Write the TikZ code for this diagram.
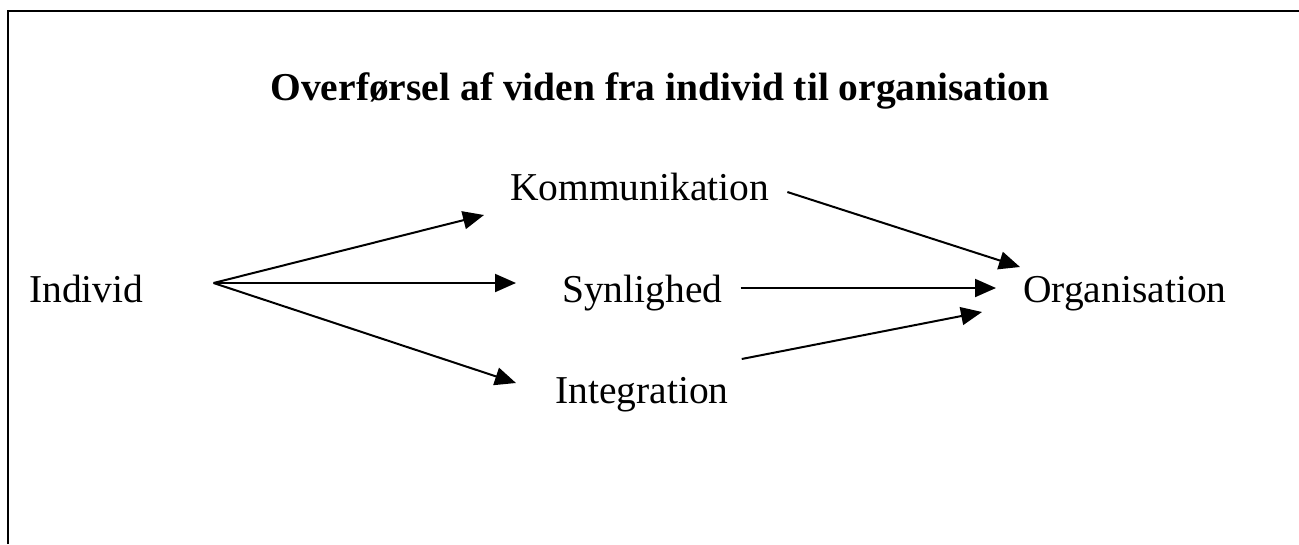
\documentclass[tikz,border=0pt]{standalone}
\usepackage{fontspec}
\setmainfont{Liberation Serif}
\usetikzlibrary{arrows.meta,calc}
\begin{document}
\begin{tikzpicture}[x=1pt,y=-1pt,
  lbl/.style={inner sep=0pt,font=\fontsize{39.5}{47}\selectfont},
  ttl/.style={inner sep=0pt,font=\fontsize{39.5}{47}\selectfont\bfseries},
  conn/.style={line width=2pt,-{Triangle[length=21pt,width=18pt]}},
  frame/.style={line width=2.6pt}]
\useasboundingbox (0,0) rectangle (1299,544);
\draw[frame] (8,544) -- (8,11) -- (1299,11);
\node[ttl,anchor=base] (title) at (660,100) {Overførsel af viden fra individ til organisation};
\node[lbl,anchor=base west] (ind) at (29,302) {Individ};
\node[lbl,anchor=base west] (kom) at (510,200) {Kommunikation};
\node[lbl,anchor=base west] (syn) at (562,302) {Synlighed};
\node[lbl,anchor=base west] (int) at (555,403) {Integration};
\node[lbl,anchor=base west] (org) at (1023,302) {Organisation};
\coordinate (fan) at ($(ind.base east)+(70,-19)$);
\draw[conn] (fan) -- ($(kom.base west)+(-26,15)$);
\draw[conn] (fan) -- ($(syn.base west)+(-46,-19)$);
\draw[conn] (fan) -- ($(int.base west)+(-39,-20)$);
\draw[conn] ($(kom.base east)+(18,-8)$) -- ($(org.base west)+(-3,-35)$);
\draw[conn] ($(syn.base east)+(18,-14)$) -- ($(org.base west)+(-27,-14)$);
\draw[conn] ($(int.base east)+(13,-44)$) -- ($(org.base west)+(-41,10)$);
\end{tikzpicture}
\end{document}
